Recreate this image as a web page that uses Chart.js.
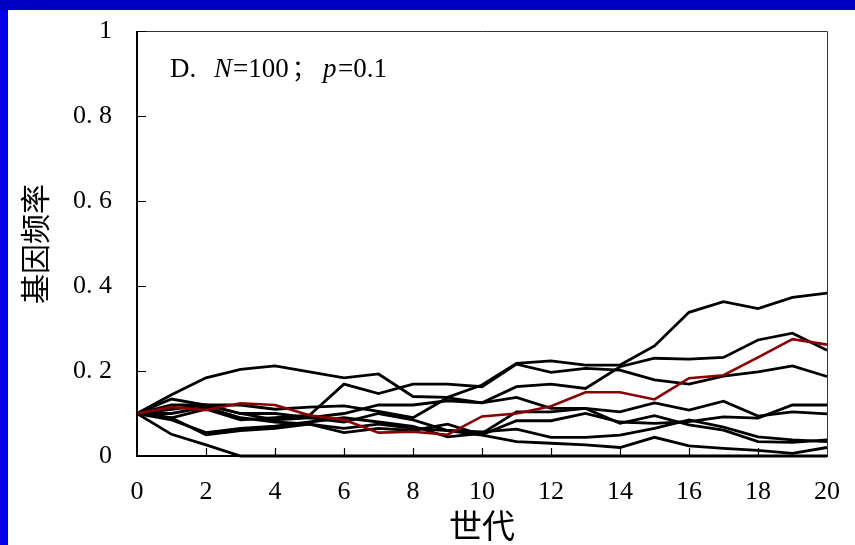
<!DOCTYPE html>
<html>
<head>
<meta charset="utf-8">
<script src="https://cdn.jsdelivr.net/npm/chart.js@4"></script>
<style>
  html, body { margin: 0; padding: 0; background: #fff; }
  #wrap { position: absolute; left: 0; top: 0; width: 855px; height: 545px; }
</style>
</head>
<body>
<div id="wrap"><canvas id="driftChart"></canvas></div>
<script>
// --- data ---
const generations = [0, 1, 2, 3, 4, 5, 6, 7, 8, 9, 10, 11, 12, 13, 14, 15, 16, 17, 18, 19, 20];
const yTickValues = [0, 0.2, 0.4, 0.6, 0.8, 1];
const yTickLabels = ['0', '0. 2', '0. 4', '0. 6', '0. 8', '1'];
const xTickLabels = ['0', '2', '4', '6', '8', '10', '12', '14', '16', '18', '20'];

// the highlighted (dark red) population
const redRun = [0.1, 0.115, 0.108, 0.124, 0.12, 0.096, 0.085, 0.055, 0.057, 0.05, 0.093, 0.1, 0.117, 0.15, 0.15, 0.133, 0.183, 0.19, 0.232, 0.275, 0.262];
// black populations
const run1 = [0.1, 0.144, 0.184, 0.204, 0.212, 0.198, 0.184, 0.193, 0.14, 0.138, 0.167, 0.218, 0.224, 0.214, 0.214, 0.259, 0.338, 0.363, 0.347, 0.373, 0.383];
const run2 = [0.1, 0.09, 0.11, 0.085, 0.09, 0.096, 0.169, 0.147, 0.169, 0.169, 0.163, 0.216, 0.197, 0.206, 0.202, 0.179, 0.169, 0.188, 0.198, 0.212, 0.187];
const run3 = [0.1, 0.134, 0.12, 0.1, 0.085, 0.09, 0.1, 0.12, 0.12, 0.13, 0.125, 0.163, 0.169, 0.159, 0.21, 0.23, 0.228, 0.232, 0.273, 0.289, 0.249];
const run4 = [0.1, 0.11, 0.12, 0.12, 0.11, 0.115, 0.118, 0.105, 0.09, 0.137, 0.125, 0.138, 0.112, 0.112, 0.077, 0.095, 0.073, 0.061, 0.034, 0.032, 0.038];
const run5 = [0.1, 0.085, 0.055, 0.065, 0.07, 0.08, 0.09, 0.08, 0.07, 0.045, 0.053, 0.104, 0.104, 0.112, 0.104, 0.125, 0.108, 0.129, 0.094, 0.104, 0.099];
const run6 = [0.1, 0.09, 0.05, 0.06, 0.065, 0.075, 0.055, 0.065, 0.06, 0.075, 0.05, 0.083, 0.083, 0.1, 0.08, 0.077, 0.081, 0.092, 0.089, 0.12, 0.12];
const run7 = [0.1, 0.12, 0.12, 0.1, 0.1, 0.09, 0.08, 0.1, 0.085, 0.06, 0.057, 0.063, 0.044, 0.044, 0.049, 0.065, 0.085, 0.068, 0.045, 0.038, 0.034];
const run8 = [0.1, 0.1, 0.115, 0.09, 0.08, 0.075, 0.065, 0.075, 0.065, 0.06, 0.049, 0.034, 0.03, 0.026, 0.02, 0.044, 0.024, 0.018, 0.013, 0.006, 0.02];
const run9 = [0.1, 0.051, 0.026, 0, 0, 0, 0, 0, 0, 0, 0, 0, 0, 0, 0, 0, 0, 0, 0, 0, 0];

const blackRuns = [run1, run2, run3, run4, run5, run6, run7, run8, run9];

function toPoints(values) {
    return generations.map((g, i) => ({ x: g, y: values[i] }));
}

const datasets = [{
    data: toPoints(redRun),
    borderColor: '#8b0000',
    borderWidth: 2.6
}];
blackRuns.forEach(run => {
    datasets.push({ data: toPoints(run), borderColor: '#000', borderWidth: 2.8 });
});
datasets.forEach(ds => {
    ds.pointRadius = 0;
    ds.tension = 0;
    ds.fill = false;
    ds.clip = false;
});

const numFont = '"Liberation Serif", "DejaVu Serif", serif';
const cjkFont = '"Noto Sans CJK SC", sans-serif';

// no extra room for overhanging tick labels: the plot box is set by the layout padding
function noOverhang(s) {
    s.paddingTop = 0;
    s.paddingBottom = 0;
    s.paddingLeft = 0;
    s.paddingRight = 0;
}

// frame, inside ticks, titles and the panel note
const decorPlugin = {
    id: 'decor',
    beforeDraw(chart) {
        const c = chart.ctx;
        c.save();
        c.fillStyle = '#fff';
        c.fillRect(0, 0, chart.width, chart.height);
        c.fillStyle = '#0000e6';
        c.fillRect(0, 0, 8, chart.height);
        c.fillStyle = '#0000c4';
        c.fillRect(0, 0, chart.width, 10);
        c.restore();
    },
    afterDatasetsDraw(chart) {
        const c = chart.ctx;
        const a = chart.chartArea;
        const xs = chart.scales.x;
        const ys = chart.scales.y;
        c.save();
        // top and right border
        c.strokeStyle = '#333';
        c.lineWidth = 1;
        c.beginPath();
        c.moveTo(a.left, a.top + 0.5);
        c.lineTo(a.right + 0.5, a.top + 0.5);
        c.lineTo(a.right + 0.5, a.bottom);
        c.stroke();
        // left and bottom axes
        c.strokeStyle = '#000';
        c.lineWidth = 2;
        c.beginPath();
        c.moveTo(a.left, a.top);
        c.lineTo(a.left, a.bottom);
        c.lineTo(a.right + 1, a.bottom);
        c.stroke();
        // inside tick marks
        c.lineWidth = 1.2;
        c.beginPath();
        yTickValues.forEach(v => {
            const py = Math.round(ys.getPixelForValue(v)) + 0.5;
            c.moveTo(a.left, py);
            c.lineTo(a.left + 9, py);
        });
        for (let g = 2; g < 20; g += 2) {
            const px = Math.round(xs.getPixelForValue(g)) + 0.5;
            c.moveTo(px, a.bottom);
            c.lineTo(px, a.bottom - 8);
        }
        c.stroke();

        // axis titles
        c.fillStyle = '#000';
        c.font = '33px ' + cjkFont;
        c.textAlign = 'center';
        c.textBaseline = 'middle';
        c.fillText('世代', (a.left + a.right) / 2, 525);
        c.font = '30px ' + cjkFont;
        c.translate(35, 244);
        c.rotate(-Math.PI / 2);
        c.fillText('基因频率', 0, 0);
        c.restore();

        // panel note: D. N=100; p=0.1
        c.save();
        c.fillStyle = '#000';
        c.textBaseline = 'alphabetic';
        c.textAlign = 'left';
        const parts = [
            ['D.', '27px ' + numFont, 170],
            ['N', 'italic 27px ' + numFont, 214],
            ['=100', '27px ' + numFont, 233],
            ['；', '24px ' + cjkFont, 292],
            ['p', 'italic 27px ' + numFont, 323],
            ['=0.1', '27px ' + numFont, 338]
        ];
        parts.forEach(([t, f, x]) => {
            c.font = f;
            c.fillText(t, x, 77);
        });
        c.restore();
    }
};

const ctx = document.getElementById('driftChart').getContext('2d');
const driftChart = new Chart(ctx, {
    type: 'line',
    data: { datasets: datasets },
    options: {
        responsive: true,
        maintainAspectRatio: false,
        animation: false,
        events: [],
        layout: { padding: { top: 31, right: 28, left: 0, bottom: 0 } },
        plugins: {
            legend: { display: false },
            tooltip: { enabled: false }
        },
        scales: {
            x: {
                type: 'linear',
                min: 0,
                max: 20,
                grid: { display: false, drawTicks: false },
                border: { display: false },
                afterFit: s => { s.height = 89; noOverhang(s); },
                afterBuildTicks: s => { s.ticks = xTickLabels.map(t => ({ value: Number(t) })); },
                ticks: {
                    padding: 21,
                    maxRotation: 0,
                    autoSkip: false,
                    color: '#000',
                    font: { family: numFont, size: 26 },
                    callback: v => String(v)
                }
            },
            y: {
                min: 0,
                max: 1,
                grid: { display: false, drawTicks: false },
                border: { display: false },
                afterFit: s => { s.width = 137; noOverhang(s); },
                afterBuildTicks: s => { s.ticks = yTickValues.map(v => ({ value: v })); },
                ticks: {
                    padding: 25,
                    autoSkip: false,
                    color: '#000',
                    font: { family: numFont, size: 26 },
                    callback: (v, i) => yTickLabels[i]
                }
            }
        }
    },
    plugins: [decorPlugin]
});
</script>
</body>
</html>
